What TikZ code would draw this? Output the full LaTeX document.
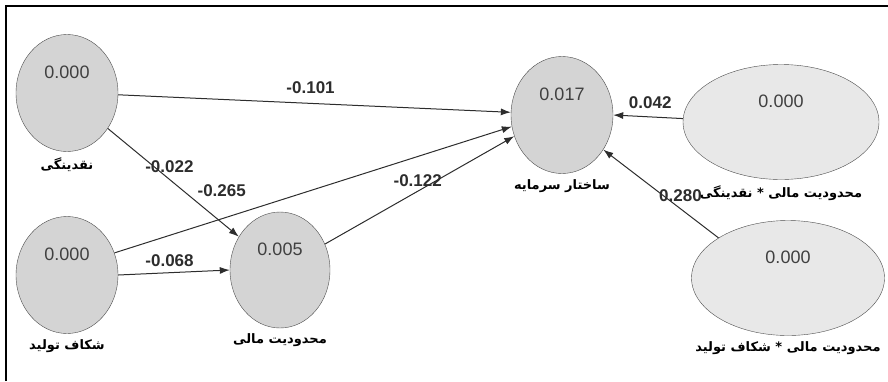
\documentclass[tikz,border=0pt]{standalone}
\usepackage{fontspec}
\setmainfont{Liberation Sans}
\newfontfamily\farsi[Script=Arabic]{DejaVu Sans}
\TeXXeTstate=1
\usepackage{tikz}
\definecolor{latent}{RGB}{212,212,212}
\definecolor{inter}{RGB}{232,232,232}
\definecolor{pathline}{RGB}{45,45,45}
\newcommand{\vfont}{\farsi\bfseries\fontsize{13}{15}\selectfont}
\tikzstyle{construct}=[ellipse,draw=black!70,fill=latent,inner sep=0pt,minimum width=102pt,minimum height=117pt]
\tikzstyle{moderator}=[construct,fill=inter,minimum width=196pt,minimum height=115pt]
\tikzstyle{coef}=[font=\bfseries\fontsize{17}{19}\selectfont,inner sep=0pt]
\usetikzlibrary{shapes.geometric,arrows.meta}

\begin{document}
\begin{tikzpicture}[x=1pt,y=1pt,>={Latex[length=10pt,width=7pt]},
    rsq/.style={font=\fontsize{18}{20}\selectfont,text=black!75,yshift=21pt},
    vlabel/.style={label distance=2pt,font=\vfont}]
    \useasboundingbox (0,0) rectangle (888,-381);
    \draw[line width=1.8pt] (6,-381) -- (6,-6) -- (888,-6);
    \node (liq) [construct,label={[rsq]center:0.000},label={[vlabel]below:\beginR نقدینگی\endR}] at (67,-93) {};
    \node (gap) [construct,label={[rsq]center:0.000},label={[vlabel]below:\beginR شکاف تولید\endR}] at (67,-275) {};
    \node (fin) [construct,minimum width=100pt,minimum height=116pt,label={[rsq]center:0.005},label={[vlabel]below:\beginR محدودیت مالی\endR}] at (280,-270) {};
    \node (cap) [construct,label={[rsq]center:0.017},label={[vlabel]below:\beginR ساختار سرمایه\endR}] at (562,-115) {};
    \node (finliq) [moderator,label={[rsq]center:0.000},label={[vlabel]below:\beginR محدودیت مالی * نقدینگی\endR}] at (781,-122) {};
    \node (fingap) [moderator,minimum width=193pt,label={[rsq]center:0.000},label={[vlabel]below:\beginR محدودیت مالی * شکاف تولید\endR}] at (788,-278) {};
    \path[->,color=pathline,line width=1pt]
        (liq.-2) edge node[coef,pos=0.49,yshift=15.5pt]{-0.101} (cap.177)
        (liq.-41) edge node[coef,pos=0.47,yshift=12.5pt]{-0.022} (fin.141)
        (gap.25) edge node[coef,pos=0.27,yshift=28pt]{-0.265} (cap.193)
        (gap.0) edge node[coef,pos=0.46,yshift=12.5pt]{-0.068} (fin.180)
        (fin.30) edge node[coef,pos=0.49,yshift=11pt]{-0.122} (cap.204)
        (finliq.178) edge node[coef,pos=0.47,yshift=14pt]{0.042} (cap.0)
        (fingap.150) edge node[coef,pos=0.33,yshift=13pt]{0.280} (cap.320);
\end{tikzpicture}
\end{document}
